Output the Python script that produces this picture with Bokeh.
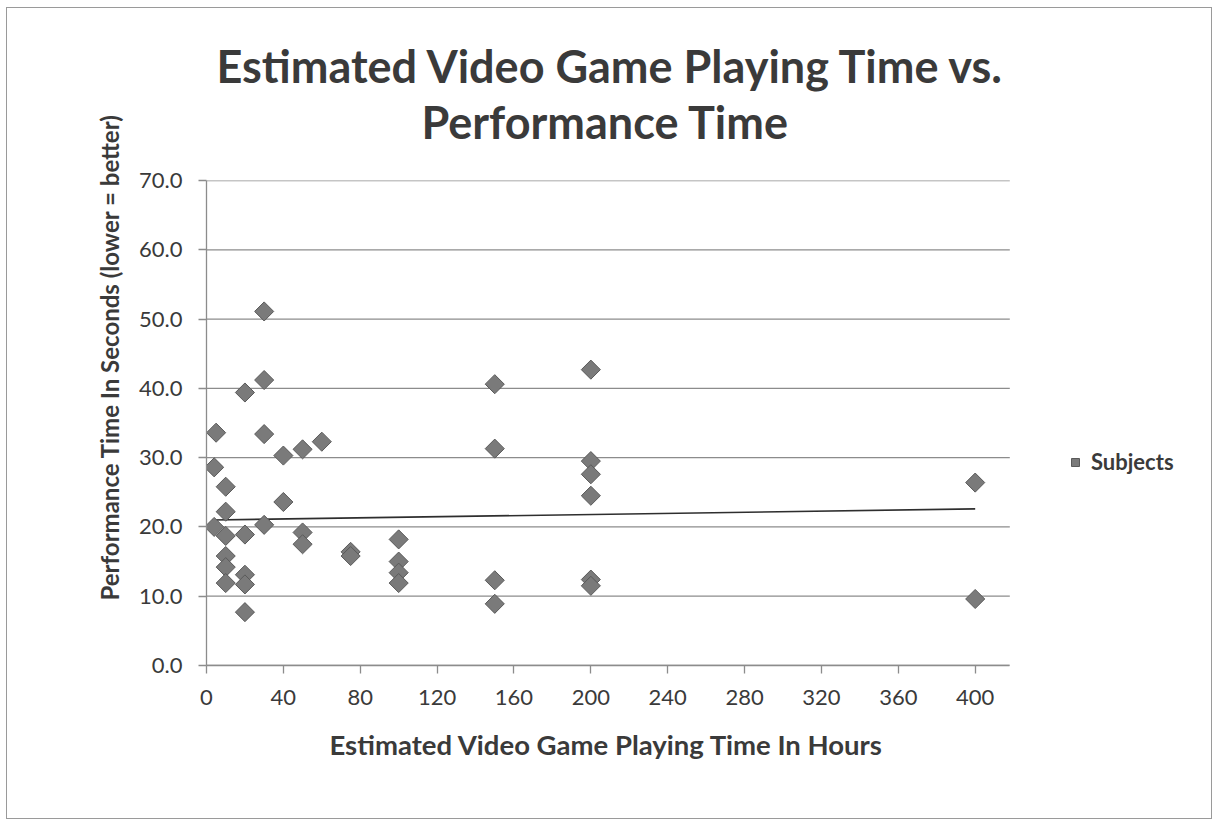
from bokeh.plotting import figure
from bokeh.models import (Range1d, FixedTicker, NumeralTickFormatter, Title,
                          Legend, LegendItem, InlineStyleSheet)
from bokeh.embed import file_html
from bokeh.resources import INLINE
import numpy as np

# ---- data ----
hours = [5, 4, 4, 10, 10, 10, 10, 10, 10,
         20, 20, 20, 20, 20,
         30, 30, 30, 30,
         40, 40, 50, 50, 50, 60, 75, 75,
         100, 100, 100, 100,
         150, 150, 150, 150,
         200, 200, 200, 200, 200, 200,
         400, 400]
seconds = [33.6, 28.6, 20.0, 25.8, 22.2, 18.7, 15.8, 14.2, 11.9,
           39.4, 18.9, 13.1, 11.7, 7.7,
           51.1, 41.2, 33.4, 20.3,
           30.3, 23.6, 31.2, 19.2, 17.5, 32.3, 16.4, 15.8,
           18.2, 15.0, 13.4, 11.9,
           40.6, 31.3, 12.3, 8.9,
           42.7, 29.5, 27.6, 24.5, 12.4, 11.5,
           26.4, 9.6]
trend_x = [3, 400]
trend_y = [21.0, 22.6]
x_ticks = [0, 40, 80, 120, 160, 200, 240, 280, 320, 360, 400]
y_ticks = [0, 10, 20, 30, 40, 50, 60, 70]
x_axis_max = 418
title_line1 = "Estimated Video Game Playing Time vs."
title_line2 = "Performance Time"
x_title = "Estimated Video Game Playing Time In Hours"
y_title = "Performance Time In Seconds (lower = better)"
series_name = "Subjects"

FONT = "Lato"
TXT = "#3a3a3a"
GRID = "#8c8c8c"

# the frame runs to the right edge so that the legend (inside it) is not clipped;
# axis and grid lines are limited to the data area 0..x_axis_max
p = figure(width=1206, height=812, output_backend="svg", toolbar_location=None,
           x_range=Range1d(0, 524), y_range=Range1d(0, 70),
           min_border_left=199, min_border_right=0,
           min_border_top=172, min_border_bottom=155,
           background_fill_color="white", border_fill_color="white")
p.stylesheets = [InlineStyleSheet(
    css=":host { margin: 7px 0 0 6px !important; "
        "border: 1px solid #9a9a9a !important; }")]
p.outline_line_color = None
p.title = None

# chart title (two lines)
t2 = Title(text=title_line2, align="left", offset=215, text_font=FONT,
           text_font_size="45px", text_font_style="bold", text_color=TXT,
           standoff=0, padding=(0, 0, 0, 32))
t1 = Title(text=title_line1, align="left", offset=10, text_font=FONT,
           text_font_size="45px", text_font_style="bold", text_color=TXT,
           standoff=0)
p.add_layout(t2, "above")
p.add_layout(t1, "above")

# horizontal gridlines limited to the axis extent
p.xgrid.grid_line_color = None
p.ygrid.grid_line_color = None
p.segment(x0=[0] * len(y_ticks), x1=[x_axis_max] * len(y_ticks),
          y0=y_ticks, y1=y_ticks, line_color=GRID, line_width=1.3)

# axes
for ax in (p.xaxis[0], p.yaxis[0]):
    ax.axis_line_color = GRID
    ax.axis_line_width = 1.3
    ax.major_tick_line_color = GRID
    ax.major_tick_line_width = 1.3
    ax.major_tick_out = 8
    ax.major_tick_in = 0
    ax.minor_tick_line_color = None
    ax.major_label_text_font = FONT
    ax.major_label_text_font_size = "22px"
    ax.major_label_text_color = TXT

p.xaxis[0].bounds = (0, x_axis_max)
p.xaxis[0].ticker = FixedTicker(ticks=x_ticks)
p.yaxis[0].ticker = FixedTicker(ticks=y_ticks)
p.yaxis[0].formatter = NumeralTickFormatter(format="0.0")
p.xaxis[0].major_label_standoff = 16
p.yaxis[0].major_label_standoff = 16

# axis titles as side titles so they can be placed like the original
xtitle = Title(text=x_title, align="left", offset=123, text_font=FONT,
               text_font_size="27.5px", text_font_style="bold",
               text_color=TXT, standoff=36)
p.add_layout(xtitle, "below")
ytitle = Title(text=y_title, align="left", offset=65, text_font=FONT,
               text_font_size="24px", text_font_style="bold",
               text_color=TXT, standoff=25)
p.add_layout(ytitle, "left")

# data
trend = p.line(trend_x, trend_y, line_color="#2e2e2e", line_width=1.6)
pts = p.scatter(hours, seconds, marker="square", size=13.5, angle=np.pi / 4,
                fill_color="#7a7a7a", line_color="#5a5a5a", line_width=1)

legend = Legend(items=[LegendItem(label=series_name, renderers=[pts])],
                location=(859, 190), border_line_color=None,
                background_fill_alpha=0, margin=0, padding=0,
                label_text_font=FONT, label_text_font_size="22px",
                label_text_font_style="bold", label_text_color=TXT,
                glyph_width=20, glyph_height=20, label_standoff=6)
p.add_layout(legend, "center")

open("out.html", "w").write(file_html(p, INLINE))
